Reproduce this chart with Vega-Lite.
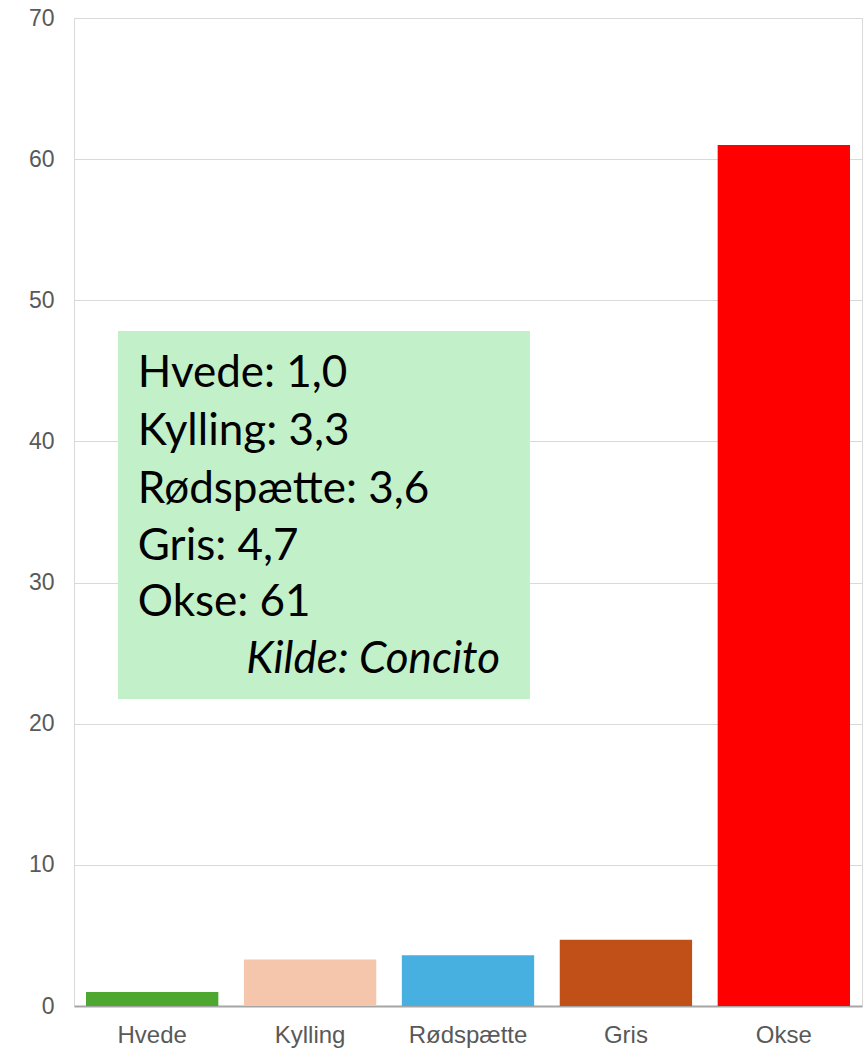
{
  "$schema": "https://vega.github.io/schema/vega-lite/v6.json",
  "width": 788,
  "height": 988,
  "autosize": {"type": "none"},
  "padding": {"left": 74, "top": 18, "right": 2, "bottom": 42},
  "background": "#ffffff",
  "config": {
    "view": {"stroke": "#d9d9d9", "strokeWidth": 1},
    "axis": {"labelFont": "Liberation Sans", "labelColor": "#595959", "grid": false, "ticks": false}
  },
  "layer": [
    {
      "data": {"values": [
        {"kategori": "Hvede", "co2": 1.0},
        {"kategori": "Kylling", "co2": 3.3},
        {"kategori": "Rødspætte", "co2": 3.6},
        {"kategori": "Gris", "co2": 4.7},
        {"kategori": "Okse", "co2": 61}
      ]},
      "mark": {"type": "bar"},
      "encoding": {
        "x": {
          "field": "kategori", "type": "nominal", "sort": null,
          "scale": {"paddingInner": 0.162, "paddingOuter": 0.076},
          "axis": {"title": null, "labelAngle": 0, "labelFontSize": 24, "labelPadding": 17, "domainColor": "#a6a6a6", "domainWidth": 2}
        },
        "y": {
          "field": "co2", "type": "quantitative",
          "scale": {"domain": [0, 70], "nice": false},
          "axis": {"title": null, "values": [0, 10, 20, 30, 40, 50, 60, 70], "grid": true, "gridColor": "#d9d9d9", "domain": false, "labelFontSize": 23, "labelPadding": 20}
        },
        "color": {
          "field": "kategori", "type": "nominal", "legend": null,
          "scale": {
            "domain": ["Hvede", "Kylling", "Rødspætte", "Gris", "Okse"],
            "range": ["#4ea72e", "#f5c6ab", "#47b0e0", "#c05017", "#ff0000"]
          }
        }
      }
    },
    {
      "data": {"values": [{"x0": 0.279, "x1": 2.893, "y0": 21.75, "y1": 47.83}]},
      "mark": {"type": "rect", "color": "#c2f0c8"},
      "encoding": {
        "x": {"field": "x0", "type": "quantitative", "scale": {"domain": [0, 5], "nice": false, "zero": false}, "axis": null},
        "x2": {"field": "x1"},
        "y": {"field": "y0", "type": "quantitative"},
        "y2": {"field": "y1"}
      }
    },
    {
      "data": {"values": [
        {"tekst": "Hvede: 1,0", "tx": 0.405, "ty": 43.86},
        {"tekst": "Kylling: 3,3", "tx": 0.405, "ty": 39.75},
        {"tekst": "Rødspætte: 3,6", "tx": 0.405, "ty": 35.64},
        {"tekst": "Gris: 4,7", "tx": 0.405, "ty": 31.60},
        {"tekst": "Okse: 61", "tx": 0.405, "ty": 27.63}
      ]},
      "mark": {"type": "text", "align": "left", "baseline": "alphabetic", "font": "Lato", "fontSize": 44, "color": "#000000"},
      "encoding": {
        "x": {"field": "tx", "type": "quantitative", "scale": {"domain": [0, 5], "nice": false, "zero": false}, "axis": null},
        "y": {"field": "ty", "type": "quantitative"},
        "text": {"field": "tekst"}
      }
    },
    {
      "data": {"values": [{"tekst": "Kilde: Concito", "tx": 2.703, "ty": 23.59}]},
      "mark": {"type": "text", "align": "right", "baseline": "alphabetic", "font": "Lato", "fontStyle": "italic", "fontSize": 44, "color": "#000000"},
      "encoding": {
        "x": {"field": "tx", "type": "quantitative", "scale": {"domain": [0, 5], "nice": false, "zero": false}, "axis": null},
        "y": {"field": "ty", "type": "quantitative"},
        "text": {"field": "tekst"}
      }
    }
  ],
  "resolve": {"scale": {"x": "independent", "color": "independent"}}
}
